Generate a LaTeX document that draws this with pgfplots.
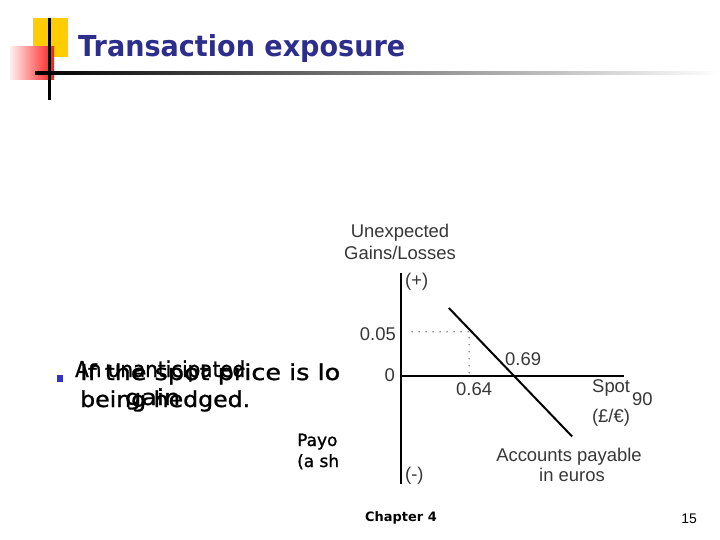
\documentclass[border=0pt]{standalone}
\usepackage{pgfplots}
\pgfplotsset{compat=1.18}
\usepackage{fontspec}
\setmainfont{DejaVu Sans}
\newfontfamily\bodyfont{DejaVu Sans}[FakeBold=1.2]
\newfontfamily\chartfont{Liberation Sans}
\usepackage{graphicx}
\definecolor{titleblue}{RGB}{45,45,140}
\definecolor{bulletblue}{RGB}{51,51,204}
\definecolor{chartgray}{RGB}{55,55,55}
\definecolor{gold}{RGB}{255,204,0}
\newcommand{\fitw}[2]{\resizebox{#1bp}{\height}{#2}}
\begin{document}
\begin{tikzpicture}[x=1bp,y=-1bp]
\useasboundingbox (0,0) rectangle (720,540);
\fill[white] (0,0) rectangle (720,540);
% slide decoration
\fill[gold] (33,18) rectangle (68,57);
\shade[left color=red!6, right color=red!90] (10,47) rectangle (54,80);
\shade[left color=black, right color=white] (35,72) rectangle (720,75);
\fill[black] (47.5,18) rectangle (50.5,100);
\node[anchor=base west, inner sep=0, text=titleblue, font=\bfseries\fontsize{29}{36}\selectfont] at (78,57) {\fitw{327}{Transaction exposure}};
% body text
\fill[bulletblue] (57,375) rectangle (63,382);
\begin{scope}[every node/.style={anchor=base west, inner sep=0, font=\bodyfont\fontsize{22}{27}\selectfont}]
\node at (80,380) {\fitw{260}{If the spot price is lo}};
\node at (75,377) {\fitw{170}{An unanticipated}};
\node at (80,407) {\fitw{170}{being hedged.}};
\node at (125,405) {\fitw{55}{gain}};
\end{scope}
\node[anchor=base west, inner sep=0, font=\bodyfont\fontsize{17}{20}\selectfont] at (297,446) {Payo};
\node[anchor=base west, inner sep=0, font=\bodyfont\fontsize{17}{20}\selectfont] at (297,467) {(a sh};
% chart image area
\fill[white] (340,212) rectangle (720,495);
\begin{axis}[at={(401bp,-484bp)}, anchor=south west, x=920bp, y=880bp,
  xmin=0.566, xmax=0.808, ymin=-0.123, ymax=0.117, hide axis, clip=false]
\addplot[black!60, line width=1.6bp, line cap=round, dash pattern=on 0bp off 7bp] coordinates {(0.578,0.05) (0.64,0.05) (0.64,0.003)};
\addplot[black, line width=2.6bp] coordinates {(0.566,0.117) (0.566,-0.123)};
\addplot[black, line width=2bp] coordinates {(0.566,0) (0.808,0)};
\addplot[black, line width=2bp] coordinates {(0.618,0.077) (0.752,-0.069)};
\end{axis}
\begin{scope}[every node/.style={inner sep=0, text=chartgray, font=\chartfont\fontsize{18.5}{22}\selectfont}]
\node[anchor=base] at (400,238) {Unexpected};
\node[anchor=base] at (400,260) {Gains/Losses};
\node[anchor=base west] at (405,287) {(+)};
\node[anchor=base west] at (405,480) {(-)};
\node[anchor=base east] at (396,340) {0.05};
\node[anchor=base east] at (395,381) {0};
\node[anchor=base west] at (505,365) {0.69};
\node[anchor=base west] at (456,395) {0.64};
\node[anchor=base west] at (592,392) {Spot};
\node[anchor=base west] at (632,405) {90};
\node[anchor=base] at (611,422) {(£/€)};
\node[anchor=base] at (569,461) {Accounts payable};
\node[anchor=base] at (572,481) {in euros};
\end{scope}
\node[anchor=base, inner sep=0, font=\bfseries\fontsize{13}{16}\selectfont] at (401,521) {Chapter 4};
\node[anchor=base, inner sep=0, font=\chartfont\fontsize{14}{16}\selectfont] at (689,523) {15};
\end{tikzpicture}
\end{document}
